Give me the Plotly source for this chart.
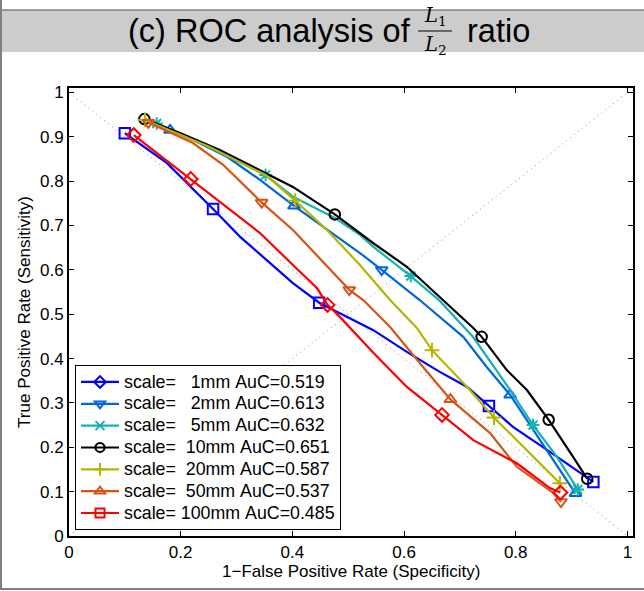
import plotly.graph_objects as go

# ---------------- data ----------------
scales = ["1mm", "2mm", "5mm", "10mm", "20mm", "50mm", "100mm"]
scale_mm = [1, 2, 5, 10, 20, 50, 100]
auc = [0.519, 0.613, 0.632, 0.651, 0.587, 0.537, 0.485]
colors = ["#0000FF", "#0066DD", "#14B2B2", "#000000", "#B5B500", "#D95319", "#FF0000"]

x_1mm = [0.100, 0.175, 0.258, 0.306, 0.354, 0.401, 0.448, 0.485, 0.545, 0.605, 0.664, 0.713, 0.752, 0.795, 0.856, 0.939]
y_1mm = [0.908, 0.841, 0.737, 0.675, 0.622, 0.570, 0.526, 0.502, 0.464, 0.415, 0.370, 0.336, 0.293, 0.246, 0.194, 0.122]
mx_1mm = [0.100, 0.258, 0.448, 0.752, 0.939]
my_1mm = [0.908, 0.737, 0.526, 0.293, 0.122]

x_2mm = [0.181, 0.222, 0.283, 0.342, 0.403, 0.462, 0.521, 0.560, 0.628, 0.706, 0.748, 0.790, 0.843, 0.891, 0.907]
y_2mm = [0.915, 0.893, 0.855, 0.803, 0.744, 0.692, 0.638, 0.600, 0.532, 0.449, 0.381, 0.318, 0.216, 0.126, 0.096]
mx_2mm = [0.181, 0.403, 0.560, 0.790, 0.907]
my_2mm = [0.915, 0.744, 0.600, 0.318, 0.096]

x_5mm = [0.157, 0.250, 0.352, 0.401, 0.476, 0.521, 0.545, 0.612, 0.664, 0.724, 0.784, 0.831, 0.874, 0.911]
y_5mm = [0.930, 0.878, 0.814, 0.765, 0.717, 0.679, 0.652, 0.586, 0.530, 0.448, 0.340, 0.250, 0.178, 0.105]
mx_5mm = [0.157, 0.352, 0.612, 0.831, 0.911]
my_5mm = [0.930, 0.814, 0.586, 0.250, 0.105]

x_10mm = [0.135, 0.200, 0.270, 0.342, 0.401, 0.476, 0.545, 0.605, 0.664, 0.724, 0.739, 0.784, 0.820, 0.859, 0.903, 0.928]
y_10mm = [0.940, 0.908, 0.870, 0.825, 0.787, 0.725, 0.660, 0.607, 0.539, 0.469, 0.449, 0.374, 0.329, 0.262, 0.178, 0.129]
mx_10mm = [0.135, 0.476, 0.739, 0.859, 0.928]
my_10mm = [0.940, 0.725, 0.449, 0.262, 0.129]

x_20mm = [0.136, 0.250, 0.352, 0.405, 0.462, 0.521, 0.575, 0.623, 0.650, 0.713, 0.761, 0.820, 0.879]
y_20mm = [0.938, 0.878, 0.814, 0.756, 0.690, 0.611, 0.532, 0.469, 0.419, 0.336, 0.267, 0.194, 0.119]
mx_20mm = [0.136, 0.405, 0.650, 0.761, 0.879]
my_20mm = [0.938, 0.756, 0.419, 0.267, 0.119]

x_50mm = [0.142, 0.222, 0.276, 0.345, 0.401, 0.462, 0.502, 0.527, 0.575, 0.634, 0.683, 0.754, 0.802, 0.867, 0.881]
y_50mm = [0.932, 0.886, 0.837, 0.752, 0.690, 0.607, 0.555, 0.532, 0.471, 0.381, 0.308, 0.232, 0.156, 0.097, 0.077]
mx_50mm = [0.142, 0.345, 0.502, 0.683, 0.881]
my_50mm = [0.932, 0.752, 0.555, 0.308, 0.077]

x_100mm = [0.116, 0.218, 0.283, 0.342, 0.401, 0.444, 0.463, 0.485, 0.545, 0.605, 0.641, 0.668, 0.724, 0.802, 0.861, 0.880]
y_100mm = [0.904, 0.805, 0.742, 0.683, 0.611, 0.559, 0.521, 0.494, 0.413, 0.336, 0.300, 0.273, 0.216, 0.164, 0.108, 0.098]
mx_100mm = [0.116, 0.218, 0.463, 0.668, 0.880]
my_100mm = [0.904, 0.805, 0.521, 0.273, 0.098]

x_ticks = [0, 0.2, 0.4, 0.6, 0.8, 1]
y_ticks = [0, 0.1, 0.2, 0.3, 0.4, 0.5, 0.6, 0.7, 0.8, 0.9, 1]

# ---------------- styling ----------------
line_x = [x_1mm, x_2mm, x_5mm, x_10mm, x_20mm, x_50mm, x_100mm]
line_y = [y_1mm, y_2mm, y_5mm, y_10mm, y_20mm, y_50mm, y_100mm]
mark_x = [mx_1mm, mx_2mm, mx_5mm, mx_10mm, mx_20mm, mx_50mm, mx_100mm]
mark_y = [my_1mm, my_2mm, my_5mm, my_10mm, my_20mm, my_50mm, my_100mm]
plot_symbols = [
    ["square-open"] * 5,
    ["triangle-up-open", "triangle-up-open", "triangle-down-open", "triangle-up-open", "triangle-up-open"],
    ["asterisk-open"] * 5,
    ["circle-open"] * 5,
    ["cross-thin-open"] * 5,
    ["triangle-down-open", "triangle-down-open", "triangle-down-open", "triangle-up-open", "triangle-down-open"],
    ["diamond-open"] * 5,
]
legend_symbols = ["diamond-open", "triangle-down-open", "x-thin-open", "circle-open",
                  "cross-thin-open", "triangle-up-open", "square-open"]

W, H = 644, 591
ML, MR, MT, MB = 69, 11, 88, 55
PW = W - ML - MR
PH = H - MT - MB


def px(xp):
    return (xp - ML) / PW


def py(yp):
    return (H - MB - yp) / PH


FONT = "Liberation Sans, Arial, Helvetica, sans-serif"

fig = go.Figure()

# chance diagonals
for dx, dy in (([0, 1], [1, 0]), ([0, 1], [0, 1])):
    fig.add_trace(go.Scatter(x=dx, y=dy, mode="lines", showlegend=False, hoverinfo="skip",
                             line=dict(color="#8C8C8C", width=1, dash="1px,4px")))

for i in range(len(scales)):
    fig.add_trace(go.Scatter(x=line_x[i], y=line_y[i], mode="lines", showlegend=False,
                             line=dict(color=colors[i], width=2.2)))
    fig.add_trace(go.Scatter(x=mark_x[i], y=mark_y[i], mode="markers", showlegend=False,
                             marker=dict(symbol=plot_symbols[i], size=10.5, color=colors[i],
                                         line=dict(color=colors[i], width=2))))

for i in range(len(scales)):
    label = "scale=%4dmm AuC=%.3f" % (scale_mm[i], auc[i])
    label = label.replace(" ", "\u00a0")
    label = '<span style="font-size:17.8px">' + label + "</span>"
    fig.add_trace(go.Scatter(x=[None], y=[None], mode="lines+markers", name=label,
                             line=dict(color=colors[i], width=2.2),
                             marker=dict(symbol=legend_symbols[i], size=9, color=colors[i],
                                         line=dict(color=colors[i], width=2))))

axis_common = dict(showgrid=False, zeroline=False, showline=True, linecolor="black", linewidth=2,
                   mirror="ticks", ticks="inside", ticklen=5, tickwidth=1, tickcolor="black",
                   automargin=False,
                   tickfont=dict(family=FONT, size=17, color="black"))

fig.update_xaxes(range=[0, 1.01], tickvals=x_ticks, ticktext=[("%g" % v) for v in x_ticks],
                 **axis_common)
fig.update_yaxes(range=[0, 1.01], tickvals=y_ticks, ticktext=[("%g" % v) for v in y_ticks],
                 title=dict(text="True Positive Rate (Sensitivity)", font=dict(family=FONT, size=17, color="black"),
                            standoff=5),
                 **axis_common)

shapes = [
    # title band
    dict(type="rect", xref="paper", yref="paper", x0=px(0), x1=px(W), y0=py(52), y1=py(10),
         fillcolor="#CCCCCC", line=dict(width=0), layer="below"),
    dict(type="line", xref="paper", yref="paper", x0=px(0), x1=px(W), y0=py(10), y1=py(10),
         line=dict(color="#808080", width=1.5)),
    # outer frame (left and bottom)
    dict(type="line", xref="paper", yref="paper", x0=px(1), x1=px(1), y0=py(0), y1=py(589),
         line=dict(color="#808080", width=2)),
    dict(type="line", xref="paper", yref="paper", x0=px(0), x1=px(W), y0=py(589), y1=py(589),
         line=dict(color="#808080", width=2)),
    # fraction bar
    dict(type="line", xref="paper", yref="paper", x0=px(418), x1=px(452), y0=py(31), y1=py(31),
         line=dict(color="black", width=1)),
]

annotations = [
    dict(text="(c) ROC analysis of", x=px(413), y=py(31), xref="paper", yref="paper",
         xanchor="right", yanchor="middle", showarrow=False,
         font=dict(family=FONT, size=32.5, color="black")),
    dict(text="<i>L</i><sub>1</sub>", x=px(435), y=py(30), xref="paper", yref="paper",
         xanchor="center", yanchor="bottom", showarrow=False, borderpad=0,
         font=dict(family="DejaVu Serif, serif", size=19.5, color="black")),
    dict(text="<i>L</i><sub>2</sub>", x=px(435), y=py(32), xref="paper", yref="paper",
         xanchor="center", yanchor="top", showarrow=False, borderpad=0,
         font=dict(family="DejaVu Serif, serif", size=19.5, color="black")),
    dict(text="ratio", x=px(465), y=py(31), xref="paper", yref="paper",
         xanchor="left", yanchor="middle", showarrow=False,
         font=dict(family=FONT, size=32.5, color="black")),
    # x-axis title
    dict(text="1\u2212False Positive Rate (Specificity)", x=0.5, xref="paper", y=py(571), yref="paper",
         xanchor="center", yanchor="middle", showarrow=False, borderpad=0,
         font=dict(family=FONT, size=17, color="black")),
]

fig.update_layout(
    width=W, height=H,
    margin=dict(l=ML, r=MR, t=MT, b=MB, pad=0, autoexpand=False),
    paper_bgcolor="white", plot_bgcolor="white",
    font=dict(family=FONT, size=17, color="black"),
    shapes=shapes, annotations=annotations,
    legend=dict(x=px(75), y=py(530), xanchor="left", yanchor="bottom",
                bgcolor="white", bordercolor="black", borderwidth=1,
                font=dict(family=FONT, size=14.5, color="black"),
                tracegroupgap=0, itemsizing="trace", itemwidth=38),
    showlegend=True,
)

fig.write_html("out.html", config={"displayModeBar": False},
               post_script="document.body.style.margin='0';document.body.style.overflow='hidden';")
